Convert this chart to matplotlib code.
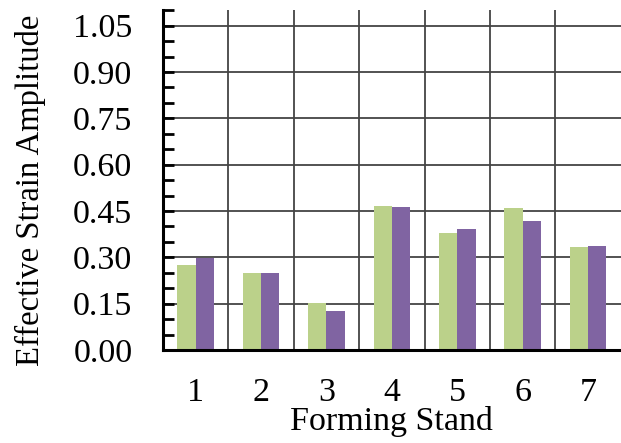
import matplotlib
matplotlib.use('Agg')
import matplotlib.pyplot as plt
import numpy as np
from matplotlib.ticker import MultipleLocator

stands = [1, 2, 3, 4, 5, 6, 7]
series_a = [0.274, 0.249, 0.152, 0.465, 0.379, 0.459, 0.332]
series_b = [0.297, 0.249, 0.127, 0.462, 0.392, 0.416, 0.336]
yticks = [0.00, 0.15, 0.30, 0.45, 0.60, 0.75, 0.90, 1.05]

plt.rcParams['font.family'] = ['Liberation Serif', 'DejaVu Serif']
fs = 24.5

fig = plt.figure(figsize=(6.21, 4.43), dpi=100)
ax = fig.add_axes([0.2625, 0.21, 0.737, 0.767])

x = np.array(stands)
w = 0.28
ax.bar(x - w / 2, series_a, w, color='#BBD18A', zorder=3)
ax.bar(x + w / 2, series_b, w, color='#8064A2', zorder=3)

ax.set_xlim(0.5, 7.5)
ax.set_ylim(0, 1.10)

# grid at category boundaries and every 0.15
ax.set_xticks(np.arange(1.5, 7.5, 1.0))
ax.set_xticks(stands, minor=True)
ax.set_xticklabels([str(s) for s in stands], minor=True, fontsize=fs)
ax.tick_params(axis='x', which='major', length=0, labelbottom=False)
ax.tick_params(axis='x', which='minor', length=0, pad=20)
ax.grid(axis='x', which='major', color='#444444', linewidth=1.3, zorder=1)

ax.set_yticks(yticks)
ax.set_yticklabels(['%.2f' % v for v in yticks], fontsize=fs)
ax.yaxis.set_minor_locator(MultipleLocator(0.05))
ax.tick_params(axis='y', which='both', direction='in', length=8, width=2,
               pad=22)
ax.grid(axis='y', which='major', color='#444444', linewidth=1.3, zorder=1)

for s in ['top', 'right']:
    ax.spines[s].set_visible(False)
for s in ['left', 'bottom']:
    ax.spines[s].set_linewidth(2.2)
    ax.spines[s].set_zorder(4)

ax.set_xlabel('Forming Stand', fontsize=fs)
ax.xaxis.set_label_coords(0.5, -0.165)
ax.set_ylabel('Effective Strain Amplitude', fontsize=23.5)
ax.yaxis.set_label_coords(-0.255, 0.47)

fig.savefig('out.png', dpi=100)
